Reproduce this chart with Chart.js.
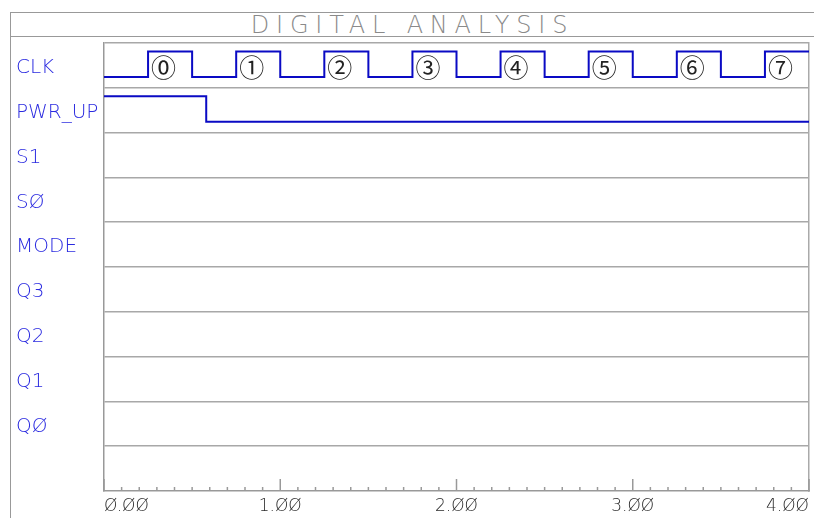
<!DOCTYPE html>
<html>
<head>
<meta charset="utf-8">
<script src="https://cdn.jsdelivr.net/npm/chart.js"></script>
<style>
    html, body { margin: 0; padding: 0; background: #ffffff; overflow: hidden; }
    #wrap { position: relative; width: 814px; height: 518px; }
    #frame {
        position: absolute; left: 10px; top: 12px; right: 0; bottom: 0;
        border-left: 1.5px solid #999; border-top: 1.5px solid #999;
    }
    #title {
        height: 23px; line-height: 25px;
        border-bottom: 1.5px solid #999;
        text-align: center;
        font-family: 'DejaVu Sans', sans-serif; font-weight: 200;
        font-size: 24px; letter-spacing: 6.8px; color: #8a8a8a;
    }
    #chart { position: absolute; left: 0; top: 0; }
</style>
</head>
<body>
<div id="wrap">
    <div id="frame"><div id="title">DIGITAL ANALYSIS</div></div>
    <canvas id="chart" width="814" height="518"></canvas>
</div>
<script>
// signal names, top to bottom
const signalNames = ['CLK', 'PWR_UP', 'S1', 'SØ', 'MODE', 'Q3', 'Q2', 'Q1', 'QØ'];

// clock edges (time, level)
const clkTimes = [0, 0.25, 0.5, 0.75, 1, 1.25, 1.5, 1.75, 2, 2.25, 2.5, 2.75, 3, 3.25, 3.5, 3.75, 4];
const clkLevels = [0, 1, 0, 1, 0, 1, 0, 1, 0, 1, 0, 1, 0, 1, 0, 1, 1];

// power-up signal
const pwrTimes = [0, 0.58, 4];
const pwrLevels = [1, 0, 0];

// numbers printed in the clock pulses
const pulseLabels = ['⓪', '①', '②', '③', '④', '⑤', '⑥', '⑦'];

// time axis labels
const xTickLabels = ['Ø.ØØ', '1.ØØ', '2.ØØ', '3.ØØ', '4.ØØ'];

const ROWS = 10;
const HIGH = 0.19, LOW = 0.76;
const NAME_POS = 0.56; // where the name sits inside its row

// turn a (time, level) list into points in row "row"
function trace(times, levels, row) {
    return times.map((t, i) => ({ x: t, y: row + (levels[i] ? HIGH : LOW) }));
}

// tick marks pointing up from the time axis + pulse numbers
const extrasPlugin = {
    id: 'extras',
    afterDraw(chart) {
        const ctx = chart.ctx;
        const xs = chart.scales.x, ys = chart.scales.y;
        const bottom = chart.chartArea.bottom;
        ctx.save();
        ctx.strokeStyle = '#999';
        ctx.lineWidth = 1.5;
        xs.ticks.forEach((tk, i) => {
            const px = xs.getPixelForValue(tk.value);
            const len = (i % 10 === 0) ? 12 : 4;
            ctx.beginPath();
            ctx.moveTo(px, bottom);
            ctx.lineTo(px, bottom - len);
            ctx.stroke();
        });

        ctx.fillStyle = '#222';
        ctx.font = '25px "Noto Sans CJK JP"';
        ctx.textAlign = 'left';
        ctx.textBaseline = 'middle';
        let n = 0;
        for (let k = 1; k < clkTimes.length; k++) {
            if (clkLevels[k] === 1 && clkLevels[k - 1] === 0 && n < pulseLabels.length) {
                const px = xs.getPixelForValue(clkTimes[k]) + 3;
                const py = ys.getPixelForValue(0.55);
                ctx.fillText(pulseLabels[n], px, py);
                n++;
            }
        }
        ctx.restore();
    }
};

new Chart(document.getElementById('chart'), {
    type: 'line',
    data: {
        datasets: [
            {
                data: trace(clkTimes, clkLevels, 0),
                borderColor: '#0a0ac4', borderWidth: 2,
                pointRadius: 0, stepped: 'before', fill: false
            },
            {
                data: trace(pwrTimes, pwrLevels, 1),
                borderColor: '#0a0ac4', borderWidth: 2,
                pointRadius: 0, stepped: 'before', fill: false
            }
        ]
    },
    options: {
        responsive: false,
        animation: false,
        layout: { padding: { left: 16, top: 43, right: 5, bottom: 0 } },
        plugins: { legend: { display: false }, tooltip: { enabled: false } },
        scales: {
            x: {
                type: 'linear', min: 0, max: 4,
                afterBuildTicks: (scale) => {
                    const t = [];
                    for (let i = 0; i <= 40; i++) t.push({ value: i / 10 });
                    scale.ticks = t;
                },
                afterFit: (scale) => { scale.height = 27; },
                ticks: {
                    autoSkip: false, maxRotation: 0, align: 'inner', padding: 5,
                    color: '#2a2a2a',
                    font: { family: 'DejaVu Sans', size: 17, weight: 200 },
                    callback: (v, i) => (i % 10 === 0 ? xTickLabels[i / 10] : '')
                },
                grid: { drawOnChartArea: false, drawTicks: false },
                border: { display: true, color: '#999', width: 1.5 }
            },
            y: {
                type: 'linear', position: 'left', min: 0, max: ROWS, reverse: true,
                afterBuildTicks: (scale) => {
                    const t = [];
                    for (let i = 0; i <= ROWS; i++) {
                        t.push({ value: i });
                        if (i < signalNames.length) t.push({ value: i + NAME_POS, name: signalNames[i] });
                    }
                    scale.ticks = t;
                },
                afterFit: (scale) => { scale.width = 88; },
                ticks: {
                    autoSkip: false, crossAlign: 'far',
                    color: '#2a2ae0',
                    font: { family: 'DejaVu Sans', size: 20, weight: 200, lineHeight: 1.0 },
                    callback: (v) => (v % 1 !== 0 ? signalNames[Math.floor(v)] : '')
                },
                grid: {
                    drawTicks: false, lineWidth: 1.5,
                    color: (c) => (c.tick && c.tick.value % 1 === 0 && c.tick.value < ROWS ? '#a8a8a8' : 'rgba(0,0,0,0)')
                },
                border: { display: true, color: '#999', width: 1.5 }
            },
            yR: {
                type: 'linear', position: 'right', min: 0, max: ROWS,
                afterFit: (scale) => { scale.width = 0; },
                ticks: { display: false },
                grid: { display: false },
                border: { display: true, color: '#aaa', width: 1.5 }
            }
        }
    },
    plugins: [extrasPlugin]
});
</script>
</body>
</html>
